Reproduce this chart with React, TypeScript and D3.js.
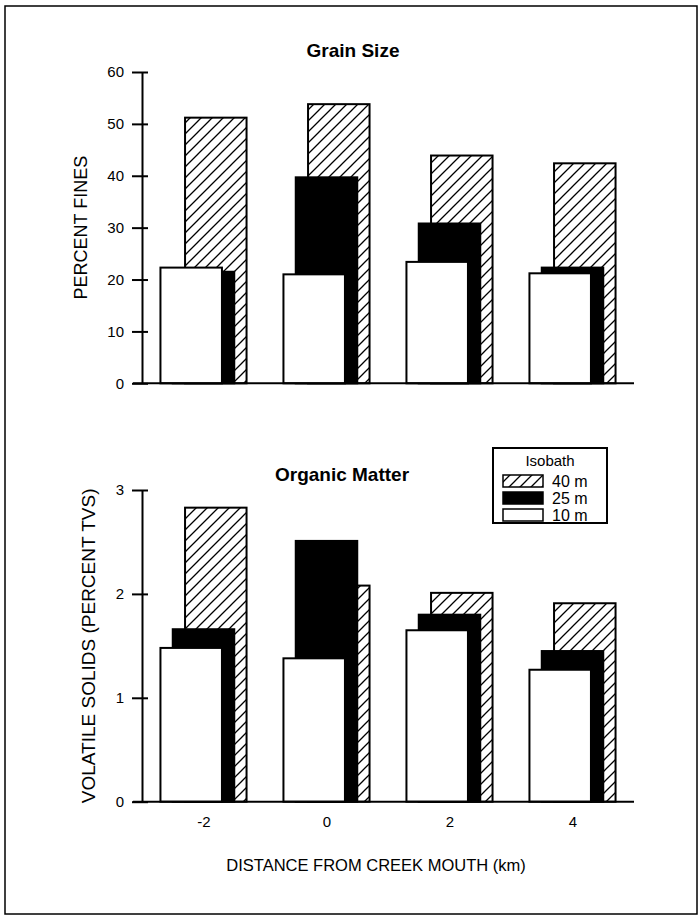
import React, { useEffect, useRef } from 'react';
import * as d3 from 'd3';

// distance from creek mouth (km)
const distances = [-2, 0, 2, 4];
const isobaths = ['40 m', '25 m', '10 m'];

// Grain size, percent fines
const fines40 = [51.2, 53.8, 43.9, 42.4];
const fines25 = [21.5, 39.7, 30.8, 22.3];
const fines10 = [22.3, 21.0, 23.4, 21.2];

// Organic matter, volatile solids (percent TVS)
const solids40 = [2.83, 2.08, 2.01, 1.91];
const solids25 = [1.66, 2.51, 1.8, 1.45];
const solids10 = [1.48, 1.38, 1.65, 1.27];

const finesTicks = [0, 10, 20, 30, 40, 50, 60];
const solidsTicks = [0, 1, 2, 3];

const FONT = '"Liberation Sans", Arial, sans-serif';

const App = () => {
  const ref = useRef<SVGSVGElement>(null);

  useEffect(() => {
    const svg = d3.select(ref.current);
    svg.selectAll('*').remove();

    // hatch pattern for the 40 m bars
    const pattern = svg.append('defs').append('pattern')
      .attr('id', 'hatch')
      .attr('patternUnits', 'userSpaceOnUse')
      .attr('width', 11)
      .attr('height', 11);
    pattern.append('rect').attr('width', 11).attr('height', 11).attr('fill', '#fff');
    pattern.append('path')
      .attr('d', 'M-2,2 L2,-2 M0,11 L11,0 M9,13 L13,9')
      .attr('stroke', '#000')
      .attr('stroke-width', 1.3);

    // outer frame
    svg.append('rect')
      .attr('x', 5).attr('y', 6).attr('width', 692).attr('height', 908)
      .attr('fill', 'none').attr('stroke', '#000').attr('stroke-width', 1.5);

    const x = d3.scaleLinear().domain([-3, 5]).range([142, 634]);
    const barW = x(1) - x(0);

    const series = [
      { fill: 'url(#hatch)', stroke: '#000', offset: 0.2 },
      { fill: '#000', stroke: '#000', offset: 0 },
      { fill: '#fff', stroke: '#000', offset: -0.2 },
    ];

    const drawPanel = (
      values: number[][],
      domain: [number, number],
      range: [number, number],
      ticks: number[],
      title: string,
      titleX: number,
      titleY: number,
      yLabel: string,
      yLabelX: number,
      yLabelSize: number,
      showX: boolean
    ) => {
      const y = d3.scaleLinear().domain(domain).range(range);
      const g = svg.append('g');

      // bars: 40 m at back, 10 m at front
      series.forEach((s, i) => {
        g.selectAll(null)
          .data(values[i])
          .enter()
          .append('rect')
          .attr('x', (d, j) => x(distances[j] - 0.5 + s.offset))
          .attr('y', d => y(d))
          .attr('width', barW)
          .attr('height', d => y(0) - y(d))
          .attr('fill', s.fill)
          .attr('stroke', s.stroke)
          .attr('stroke-width', 2);
      });

      // y axis
      const yAxis = g.append('g')
        .attr('transform', `translate(${x(-3)},0)`)
        .call(d3.axisLeft(y).tickValues(ticks).tickSize(10).tickSizeOuter(0).tickPadding(8)
          .tickFormat(d => String(d)));
      yAxis.select('.domain').attr('stroke-width', 2);
      yAxis.selectAll('.tick line').attr('x1', 6).attr('stroke-width', 2);
      yAxis.selectAll('.tick text').style('font-family', FONT).style('font-size', '15px').attr('fill', '#000');

      // x axis
      const xAxis = g.append('g')
        .attr('transform', `translate(0,${y(0)})`)
        .call(d3.axisBottom(x).tickValues(showX ? distances : []).tickSize(0).tickPadding(15)
          .tickFormat(d => String(d)));
      xAxis.select('.domain').attr('stroke-width', 2).attr('d', `M${x(-3) - 9},0H${x(5)}`);
      xAxis.selectAll('.tick text').style('font-family', FONT).style('font-size', '15px').attr('fill', '#000');

      g.append('text')
        .attr('x', titleX).attr('y', titleY)
        .attr('text-anchor', 'middle')
        .style('font-family', FONT).style('font-size', '19px').style('font-weight', 'bold')
        .text(title);

      const mid = (range[0] + range[1]) / 2;
      g.append('text')
        .attr('transform', `translate(${yLabelX},${mid}) rotate(-90)`)
        .attr('text-anchor', 'middle')
        .style('font-family', FONT).style('font-size', `${yLabelSize}px`)
        .text(yLabel);
    };

    drawPanel([fines40, fines25, fines10], [0, 60], [383.3, 72], finesTicks,
      'Grain Size', 353, 57, 'PERCENT FINES', 87, 18, false);
    drawPanel([solids40, solids25, solids10], [0, 3], [801.7, 490], solidsTicks,
      'Organic Matter', 342, 481, 'VOLATILE SOLIDS (PERCENT TVS)', 95, 19, true);

    svg.append('text')
      .attr('x', 376).attr('y', 871)
      .attr('text-anchor', 'middle')
      .style('font-family', FONT).style('font-size', '16.5px')
      .text('DISTANCE FROM CREEK MOUTH (km)');

    // legend
    const legend = svg.append('g').attr('transform', 'translate(493,448)');
    legend.append('rect')
      .attr('width', 114).attr('height', 75)
      .attr('fill', '#fff').attr('stroke', '#000').attr('stroke-width', 2);
    legend.append('text')
      .attr('x', 57).attr('y', 18)
      .attr('text-anchor', 'middle')
      .style('font-family', FONT).style('font-size', '15px')
      .text('Isobath');
    const rows = legend.selectAll('.row')
      .data(isobaths)
      .enter()
      .append('g')
      .attr('class', 'row')
      .attr('transform', (d, i) => `translate(0,${33 + i * 17})`);
    rows.append('rect')
      .attr('x', 10).attr('y', -6).attr('width', 40).attr('height', 12)
      .attr('fill', (d, i) => series[i].fill)
      .attr('stroke', '#000').attr('stroke-width', 1.5);
    rows.append('text')
      .attr('x', 59).attr('y', 5.5)
      .style('font-family', FONT).style('font-size', '16px')
      .text(d => d);
  }, []);

  return (
    <svg ref={ref} width={700} height={920}
      style={{ position: 'absolute', left: 0, top: 0, background: '#fff' }} />
  );
};

export default App;
